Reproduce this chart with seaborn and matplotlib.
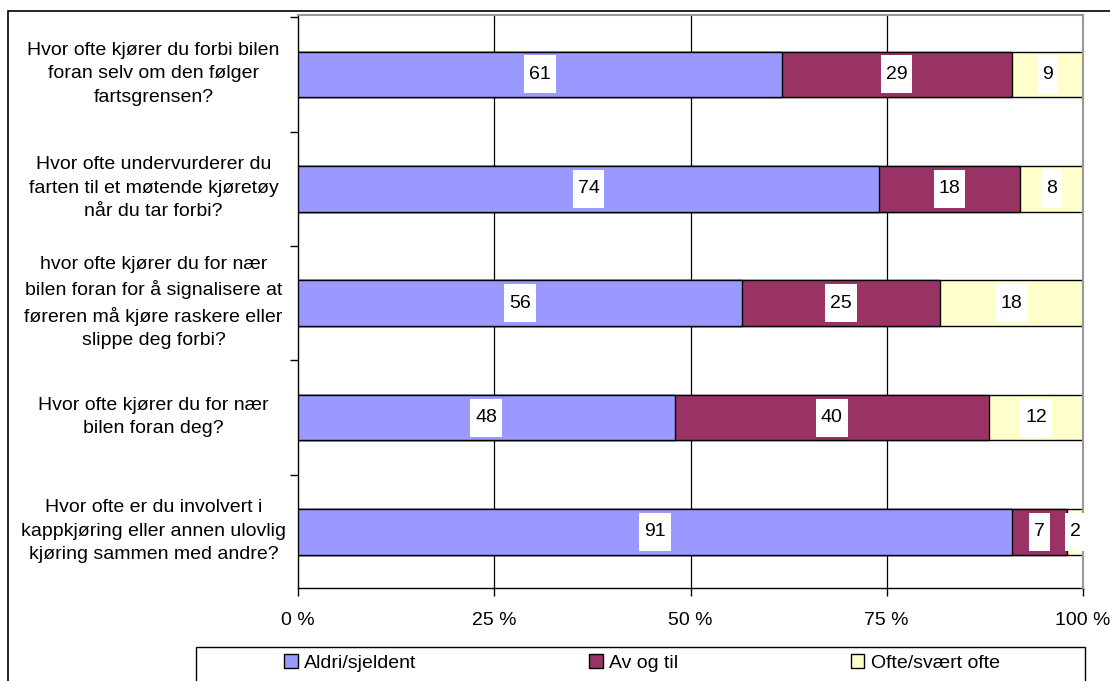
import matplotlib
matplotlib.use("Agg")
import matplotlib.pyplot as plt
from matplotlib.patches import Rectangle
from matplotlib.ticker import FixedLocator, FuncFormatter
from matplotlib.transforms import ScaledTranslation
import numpy as np
import pandas as pd
import seaborn as sns

# Survey questions (top to bottom) and answer shares
questions = [
    "Hvor ofte kjører du forbi bilen\nforan selv om den følger\nfartsgrensen?",
    "Hvor ofte undervurderer du\nfarten til et møtende kjøretøy\nnår du tar forbi?",
    "hvor ofte kjører du for nær\nbilen foran for å signalisere at\nføreren må kjøre raskere eller\nslippe deg forbi?",
    "Hvor ofte kjører du for nær\nbilen foran deg?",
    "Hvor ofte er du involvert i\nkappkjøring eller annen ulovlig\nkjøring sammen med andre?",
]
series_names = ["Aldri/sjeldent", "Av og til", "Ofte/svært ofte"]
aldri = [61, 74, 56, 48, 91]
av_og_til = [29, 18, 25, 40, 7]
ofte = [9, 8, 18, 12, 2]
x_ticks = [0, 25, 50, 75, 100]

colors = ["#9999FF", "#993366", "#FFFFCC"]
FS = 14

sns.set_theme(style="white")
plt.rcParams["font.family"] = ["Liberation Sans", "DejaVu Sans"]
plt.rcParams["text.color"] = "black"
plt.rcParams["xtick.labelcolor"] = "black"
plt.rcParams["ytick.labelcolor"] = "black"

vals = np.array([aldri, av_og_til, ofte], dtype=float)
pct = vals / vals.sum(axis=0) * 100.0
cum = np.cumsum(pct, axis=0)

fig = plt.figure(figsize=(11.10, 6.81), dpi=100)
W, H = 1110, 681
ax = fig.add_axes([298 / W, 1 - 588 / H, (1083 - 298) / W, (588 - 15) / H])

# Stacked bars: draw cumulative totals from the widest down
for i in reversed(range(3)):
    df = pd.DataFrame({"question": questions, "value": cum[i]})
    sns.barplot(data=df, x="value", y="question", orient="h", color=colors[i],
                saturation=1, edgecolor="black", linewidth=1.0, width=0.4,
                ax=ax, zorder=3)

ax.set_xlim(0, 100)
ax.set_ylim(4.49, -0.52)
ax.set_xlabel("")
ax.set_ylabel("")

ax.xaxis.set_major_locator(FixedLocator(x_ticks))
ax.xaxis.set_major_formatter(FuncFormatter(lambda v, p: f"{int(v)} %"))
ax.tick_params(axis="x", which="major", direction="out", length=6, width=1,
               color="black", labelsize=FS, pad=11, bottom=True)

ax.set_yticks(range(len(questions)))
ax.set_yticklabels(questions, ha="center", multialignment="center",
                   fontsize=FS, linespacing=1.5, color="black")
ax.tick_params(axis="y", which="major", length=0, pad=104)
for lbl in ax.get_yticklabels():
    lbl.set_transform(lbl.get_transform() + ScaledTranslation(0, 6 / 100, fig.dpi_scale_trans))
ax.yaxis.set_minor_locator(FixedLocator([-0.5, 0.5, 1.5, 2.5, 3.5, 4.5]))
ax.tick_params(axis="y", which="minor", direction="out", length=6, width=1,
               color="black", left=True)

# Vertical grid lines
for xv in [25, 50, 75]:
    ax.axvline(xv, color="black", lw=0.9, zorder=1)

for side in ["left", "bottom"]:
    ax.spines[side].set_color("black")
    ax.spines[side].set_linewidth(1.0)
for side in ["top", "right"]:
    ax.spines[side].set_color("#999999")
    ax.spines[side].set_linewidth(1.5)
ax.spines["right"].set_zorder(4)

# Value labels on white boxes sized to the text
fig.canvas.draw()
renderer = fig.canvas.get_renderer()
inv = fig.transFigure.inverted()
for i, series in enumerate([aldri, av_og_til, ofte]):
    for j, v in enumerate(series):
        start = cum[i][j] - pct[i][j]
        xc = start + pct[i][j] / 2
        px, py = ax.transData.transform((xc, j))
        fx, fy = inv.transform((px, py))
        t = fig.text(fx, fy, f"{v}", ha="center", va="center", fontsize=FS,
                     color="black", zorder=7)
        bb = t.get_window_extent(renderer)
        x0, y0 = inv.transform((bb.x0 - 5, py - 19))
        x1, y1 = inv.transform((bb.x1 + 5, py + 19))
        fig.add_artist(Rectangle((x0, y0), x1 - x0, y1 - y0,
                                 transform=fig.transFigure, fc="white",
                                 ec="none", zorder=5))

# Outer chart frame
fig.patches.append(Rectangle((8 / W, -0.2), 1.2, 1 - 11 / H + 0.2,
                             transform=fig.transFigure, fill=False,
                             edgecolor="black", lw=1.2))

# Legend box and entries
fig.patches.append(Rectangle((196 / W, -0.2), (1085 - 196) / W, 0.2 + 1 - 647 / H,
                             transform=fig.transFigure, fill=False,
                             edgecolor="black", lw=1.0))
handles = [Rectangle((0, 0), 1, 1, fc=c, ec="black", lw=1.0) for c in colors]
fig.legend(handles, series_names, loc="center", ncol=3, mode="expand",
           bbox_to_anchor=(284 / W, 1 - 675 / H, (1000 - 284) / W, 24 / H),
           frameon=False, fontsize=FS, handlelength=0.7, handleheight=0.7,
           handletextpad=0.35, borderaxespad=0, borderpad=0)

fig.savefig("out.png", dpi=100)
